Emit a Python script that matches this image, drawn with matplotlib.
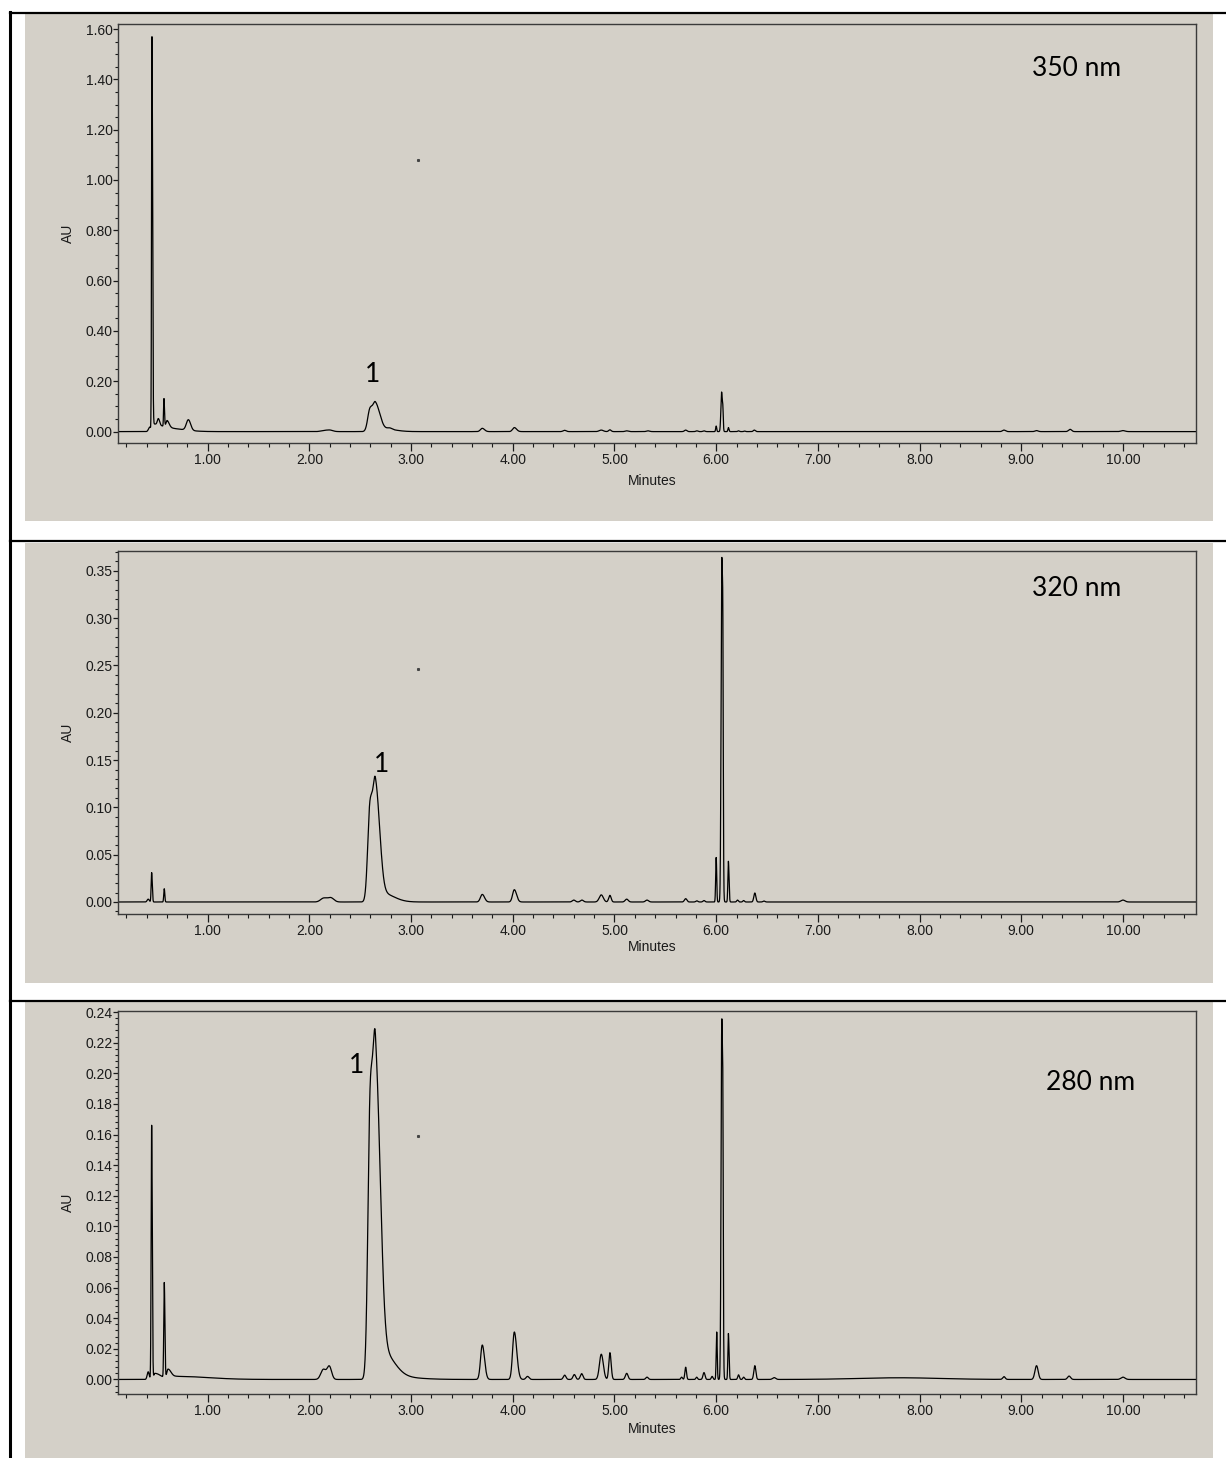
import numpy as np
import matplotlib
matplotlib.use('Agg')
import matplotlib.pyplot as plt
from matplotlib.patches import Rectangle
from matplotlib.lines import Line2D
from matplotlib.ticker import MultipleLocator, FormatStrFormatter

W, H = 1226, 1458
BG = '#d4d0c8'

# peak tables: retention time (min), height (AU), left / right width (min)
rt_350 = [0.43, 0.452, 0.47, 0.515, 0.570, 0.600, 0.62, 0.81, 2.14, 2.20, 2.595, 2.65, 2.72, 2.79,
          3.70, 4.015, 4.51, 4.87, 4.955, 5.12, 5.33, 5.70, 5.81, 5.88, 6.00, 6.053, 6.066, 6.12,
          6.22, 6.28, 6.375, 8.83, 9.15, 9.48, 10.00]
h_350 = [0.018, 1.56, 0.03, 0.025, 0.11, 0.025, 0.012, 0.042, 0.004, 0.006, 0.085, 0.11, 0.012, 0.005,
         0.013, 0.016, 0.005, 0.006, 0.007, 0.003, 0.003, 0.006, 0.003, 0.003, 0.022, 0.157, 0.06, 0.016,
         0.003, 0.002, 0.006, 0.006, 0.004, 0.009, 0.004]
wl_350 = [0.012, 0.004, 0.01, 0.01, 0.004, 0.01, 0.05, 0.02, 0.03, 0.03, 0.022, 0.025, 0.03, 0.02,
          0.018, 0.017, 0.015, 0.02, 0.012, 0.015, 0.015, 0.012, 0.01, 0.01, 0.005, 0.007, 0.004, 0.005,
          0.008, 0.008, 0.01, 0.015, 0.015, 0.015, 0.02]
wr_350 = [0.012, 0.006, 0.08, 0.012, 0.005, 0.02, 0.15, 0.022, 0.03, 0.03, 0.025, 0.04, 0.11, 0.02,
          0.022, 0.022, 0.015, 0.02, 0.012, 0.015, 0.015, 0.012, 0.01, 0.01, 0.005, 0.008, 0.004, 0.006,
          0.008, 0.008, 0.01, 0.015, 0.015, 0.015, 0.02]

rt_320 = [0.415, 0.449, 0.573, 2.14, 2.21, 2.595, 2.65, 2.72, 3.70, 4.015, 4.60, 4.68, 4.87, 4.955,
          5.12, 5.32, 5.70, 5.81, 5.88, 6.00, 6.055, 6.066, 6.12, 6.21, 6.27, 6.38, 6.47, 10.00]
h_320 = [0.003, 0.031, 0.014, 0.004, 0.0045, 0.096, 0.122, 0.009, 0.008, 0.013, 0.002, 0.002, 0.0075, 0.007,
         0.003, 0.002, 0.0035, 0.0012, 0.0015, 0.047, 0.36, 0.16, 0.043, 0.002, 0.0015, 0.0095, 0.001, 0.002]
wl_320 = [0.01, 0.005, 0.005, 0.03, 0.03, 0.022, 0.025, 0.03, 0.018, 0.017, 0.015, 0.015, 0.02, 0.012,
          0.015, 0.015, 0.012, 0.01, 0.01, 0.005, 0.007, 0.004, 0.005, 0.008, 0.008, 0.01, 0.01, 0.02]
wr_320 = [0.01, 0.006, 0.005, 0.03, 0.03, 0.025, 0.04, 0.11, 0.022, 0.022, 0.015, 0.015, 0.02, 0.012,
          0.015, 0.015, 0.012, 0.01, 0.01, 0.005, 0.008, 0.004, 0.006, 0.008, 0.008, 0.01, 0.01, 0.02]

rt_280 = [0.415, 0.449, 0.48, 0.573, 0.61, 0.70, 2.137, 2.196, 2.597, 2.65, 2.72, 2.75, 3.70, 4.015,
          4.145, 4.51, 4.605, 4.677, 4.87, 4.955, 5.12, 5.32, 5.66, 5.70, 5.808, 5.88, 5.96, 6.005,
          6.055, 6.066, 6.12, 6.22, 6.27, 6.38, 6.57, 7.80, 8.83, 9.15, 9.47, 10.00]
h_280 = [0.005, 0.166, 0.004, 0.062, 0.006, 0.002, 0.0065, 0.0085, 0.17, 0.205, 0.016, 0.002, 0.0225, 0.031,
         0.002, 0.0028, 0.0032, 0.0038, 0.0165, 0.0175, 0.004, 0.0015, 0.0015, 0.008, 0.0015, 0.0045, 0.002, 0.031,
         0.233, 0.1, 0.030, 0.003, 0.0015, 0.009, 0.0012, 0.0011, 0.0018, 0.009, 0.0022, 0.0015]
wl_280 = [0.01, 0.005, 0.01, 0.005, 0.012, 0.05, 0.025, 0.022, 0.022, 0.025, 0.03, 0.05, 0.017, 0.017,
          0.015, 0.013, 0.013, 0.013, 0.018, 0.011, 0.013, 0.012, 0.008, 0.008, 0.008, 0.01, 0.008, 0.005,
          0.007, 0.004, 0.005, 0.008, 0.008, 0.01, 0.015, 0.4, 0.012, 0.016, 0.015, 0.02]
wr_280 = [0.01, 0.006, 0.06, 0.006, 0.03, 0.3, 0.025, 0.022, 0.025, 0.045, 0.11, 0.25, 0.022, 0.024,
          0.015, 0.013, 0.013, 0.013, 0.02, 0.012, 0.013, 0.012, 0.008, 0.008, 0.008, 0.01, 0.008, 0.005,
          0.008, 0.004, 0.006, 0.008, 0.008, 0.01, 0.015, 0.4, 0.012, 0.016, 0.015, 0.02]

wavelengths = ['350 nm', '320 nm', '280 nm']
y_limits = [(-0.0453, 1.62), (-0.0127, 0.371), (-0.0095, 0.2407)]
y_major = [0.20, 0.05, 0.02]
y_minor = [0.05, 0.01, 0.004]
peak1_label = [(2.62, 0.225), (2.71, 0.145), (2.46, 0.205)]
stray_points = [(3.07, 1.08), (3.07, 0.246), (3.07, 0.159)]

# pixel boxes: grey panel (x0, y0, x1, y1), axes (left, top, right, bottom)
panel_boxes = [(25, 14, 1213, 521), (25, 543, 1213, 983), (25, 1002, 1213, 1458)]
axes_boxes = [(118, 24, 1196, 443), (118, 551, 1196, 914), (118, 1011, 1196, 1394)]
tag_pos = [(1077, 68), (1077, 589), (1091, 1082)]
label_drop = [38, 33, 35]
x_limits = (0.118, 10.718)


def trace(t, rts, hs, wls, wrs):
    y = np.zeros_like(t)
    for rt, h, wl, wr in zip(rts, hs, wls, wrs):
        w = np.where(t < rt, wl, wr)
        y += h * np.exp(-0.5 * ((t - rt) / w) ** 2)
    return y


def fx(x):
    return x / W


def fy(y):
    return 1 - y / H


fig = plt.figure(figsize=(W / 100, H / 100), dpi=100)
fig.patch.set_facecolor('white')

for x0, y0, x1, y1 in panel_boxes:
    fig.add_artist(Rectangle((fx(x0), fy(y1)), fx(x1 - x0), (y1 - y0) / H,
                             transform=fig.transFigure, facecolor=BG, edgecolor='none', zorder=0))

# table rules round the panels
for yline in [12.5, 541.5, 1000.5]:
    fig.add_artist(Line2D([fx(10), fx(W)], [fy(yline), fy(yline)], transform=fig.transFigure,
                          color='black', lw=1.6))
fig.add_artist(Line2D([fx(10), fx(10)], [fy(11.5), fy(H)], transform=fig.transFigure,
                      color='black', lw=2.2))

t = np.arange(x_limits[0], x_limits[1], 0.001)
traces = [trace(t, rt_350, h_350, wl_350, wr_350),
          trace(t, rt_320, h_320, wl_320, wr_320),
          trace(t, rt_280, h_280, wl_280, wr_280)]

for i in range(3):
    l, tp, r, b = axes_boxes[i]
    ax = fig.add_axes([fx(l), fy(b), (r - l) / W, (b - tp) / H])
    ax.set_facecolor(BG)
    ax.plot(t, traces[i], color='black', lw=0.9)
    ax.plot([stray_points[i][0]], [stray_points[i][1]], marker='s', ms=1.2, color='#444444', ls='none')

    ax.set_xlim(*x_limits)
    ax.set_ylim(*y_limits[i])
    ax.xaxis.set_major_locator(MultipleLocator(1.0))
    ax.xaxis.set_minor_locator(MultipleLocator(0.2))
    ax.yaxis.set_major_locator(MultipleLocator(y_major[i]))
    ax.yaxis.set_minor_locator(MultipleLocator(y_minor[i]))
    ax.xaxis.set_major_formatter(FormatStrFormatter('%.2f'))
    ax.yaxis.set_major_formatter(FormatStrFormatter('%.2f'))

    for s in ax.spines.values():
        s.set_color('#3a3a3a')
        s.set_linewidth(1.0)
    ax.tick_params(axis='x', which='major', direction='out', length=5.8, width=0.9, pad=1.5,
                   labelsize=10, colors='#1a1a1a')
    ax.tick_params(axis='x', which='minor', direction='out', length=2.6, width=0.8, colors='#1a1a1a')
    ax.tick_params(axis='y', which='major', direction='out', length=3.4, width=0.9, pad=0.5,
                   labelsize=10, colors='#1a1a1a')
    ax.tick_params(axis='y', which='minor', direction='out', length=2.2, width=0.8, colors='#1a1a1a')
    for lab in ax.get_xticklabels() + ax.get_yticklabels():
        lab.set_family('Liberation Sans')

    ax.set_xlabel('Minutes', fontsize=10, family='Liberation Sans', color='#1a1a1a', va='center')
    ax.xaxis.set_label_coords(0.4954, -label_drop[i] / (b - tp))
    ax.set_ylabel('AU', fontsize=10, family='Liberation Sans', color='#1a1a1a', va='center')
    ax.yaxis.set_label_coords((68 - l) / (r - l), 0.5)

    ax.text(peak1_label[i][0], peak1_label[i][1], '1', fontsize=19, family='Lato',
            ha='center', va='center', color='black')
    fig.text(fx(tag_pos[i][0]), fy(tag_pos[i][1]), wavelengths[i], fontsize=19, family='Lato',
             ha='center', va='center', color='black')

fig.savefig('out.png', dpi=100)
